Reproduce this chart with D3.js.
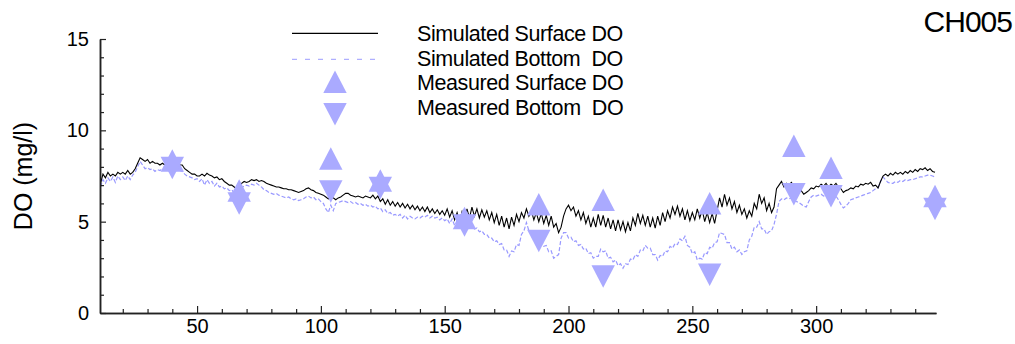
<!DOCTYPE html>
<html>
<head>
<meta charset="utf-8">
<script src="https://cdn.jsdelivr.net/npm/d3@7"></script>
<style>
  body { margin: 0; background: #fff; }
  svg { font-family: "Liberation Sans", Arial, sans-serif; }
</style>
</head>
<body>
<svg id="chart" width="1015" height="344"></svg>
<script>
// simulated series, one value per day starting at day 11
const firstDay = 11;
const surfaceSim = [
  7.1, 7.6, 7.4, 7.7, 7.5, 7.6, 7.5, 7.7, 7.6, 7.7,
  7.6, 7.8, 7.6, 7.7, 7.9, 8.2, 8.5, 8.4, 8.3, 8.4,
  8.2, 8.3, 8.2, 8.2, 8.1, 8.2, 8.1, 8.2, 8.2, 8.3,
  8.2, 8.3, 8.1, 8.1, 7.9, 7.8, 7.7, 7.6, 7.6, 7.5,
  7.5, 7.6, 7.5, 7.65, 7.55, 7.5, 7.4, 7.45, 7.3, 7.35,
  7.2, 7.1, 7.0, 7.0, 6.9, 6.8, 6.9, 7.1, 7.2, 7.15,
  7.2, 7.3, 7.25, 7.3, 7.2, 7.25, 7.2, 7.1, 7.05, 7.0,
  6.95, 6.9, 6.9, 6.85, 6.8, 6.8, 6.75, 6.75, 6.7, 6.65,
  6.6, 6.65, 6.7, 6.8, 6.85, 6.75, 6.7, 6.6, 6.55, 6.5,
  6.45, 6.35, 6.25, 6.3, 6.3, 6.2, 6.3, 6.35, 6.45, 6.55,
  6.55, 6.45, 6.4, 6.35, 6.4, 6.35, 6.3, 6.4, 6.35, 6.3,
  6.45, 6.25, 6.4, 6.1, 6.25, 5.95, 6.2, 5.9, 6.1, 5.85,
  6.05, 5.8, 6.0, 5.75, 5.95, 5.7, 5.9, 5.65, 5.85, 5.6,
  5.8, 5.55, 5.8, 5.5, 5.7, 5.45, 5.65, 5.4, 5.6, 5.35,
  5.7, 5.25, 5.6, 5.1, 5.5, 5.0, 5.55, 5.05, 5.7, 5.2,
  5.8, 5.3, 5.7, 5.2, 5.65, 5.25, 5.6, 5.1, 5.5, 4.95,
  5.4, 4.8, 5.3, 4.7, 5.2, 4.6, 5.25, 4.8, 5.4, 5.0,
  5.5, 5.2, 5.7, 5.3, 5.6, 5.1, 5.5, 5.0, 5.45, 4.9,
  5.35, 4.8, 5.3, 4.7, 4.9, 4.4, 4.7, 5.3, 5.7, 5.9,
  5.6, 5.8, 5.3, 5.6, 5.1, 5.5, 4.9, 5.3, 4.7, 5.2,
  4.7, 5.4, 4.8, 5.35, 4.7, 5.2, 4.6, 5.1, 4.5, 5.1,
  4.55, 5.0, 4.45, 4.95, 4.5, 5.2, 4.8, 5.45, 4.9, 5.35,
  4.8, 5.3, 4.7, 5.2, 4.65, 5.3, 4.8, 5.5, 5.0, 5.6,
  5.2, 5.8, 5.4, 5.85, 5.3, 5.7, 5.1, 5.6, 5.05, 5.5,
  5.1, 5.7, 5.2, 5.65, 5.0, 5.5, 4.95, 5.45, 4.9, 5.6,
  6.3, 5.8, 6.5, 5.9, 6.3, 5.7, 6.1, 5.5, 5.9, 5.4,
  5.7, 5.2, 5.6, 5.3, 6.0, 5.7, 6.5, 6.0, 6.3, 5.6,
  6.0, 5.5, 5.8, 6.8, 7.0, 7.2, 6.9, 7.1, 7.0, 7.15,
  6.95, 7.0, 6.8, 6.7, 6.5, 6.6, 6.7, 6.85, 6.8, 6.95,
  6.9, 7.05, 6.95, 7.1, 6.9, 7.05, 6.95, 7.1, 6.9, 6.8,
  6.6, 6.7, 6.75, 6.85, 6.8, 6.95, 6.9, 7.05, 7.0, 7.1,
  7.05, 7.15, 6.95, 7.0, 6.85, 7.2, 7.5, 7.6, 7.5, 7.65,
  7.55, 7.7, 7.6, 7.7, 7.6, 7.75, 7.65, 7.8, 7.7, 7.85,
  7.75, 7.9, 7.85, 7.95, 7.8, 7.9, 7.75, 7.7
];
const bottomSim = [
  6.9, 7.3, 7.1, 7.4, 7.2, 7.45, 7.15, 7.5, 7.3, 7.45,
  7.25, 7.5, 7.3, 7.55, 7.7, 8.0, 8.3, 8.1, 7.9, 7.95,
  7.85, 7.9, 7.75, 7.85, 7.8, 7.9, 7.85, 7.9, 7.9, 7.95,
  7.9, 7.95, 7.8, 7.75, 7.6, 7.5, 7.45, 7.4, 7.3, 7.35,
  7.2, 7.35, 7.0, 7.3, 7.1, 7.2, 6.95, 7.1, 6.9, 6.95,
  6.8, 6.85, 6.7, 6.75, 6.55, 6.6, 6.7, 6.85, 6.95, 7.0,
  6.95, 7.05, 7.0, 7.1, 7.0, 6.9, 6.75, 6.7, 6.6, 6.55,
  6.5, 6.55, 6.45, 6.4, 6.35, 6.3, 6.35, 6.25, 6.2, 6.25,
  6.15, 6.2, 6.25, 6.35, 6.4, 6.3, 6.35, 6.2, 6.25, 6.1,
  6.0, 5.7, 5.5, 5.9, 5.6, 6.0, 6.05, 6.1, 6.15, 6.1,
  6.05, 6.1, 6.0, 6.05, 5.95, 6.0, 5.9, 5.95, 5.85, 5.9,
  5.8, 5.85, 5.7, 5.75, 5.55, 5.65, 5.45, 5.5, 5.35, 5.4,
  5.3, 5.4, 5.2, 5.35, 5.15, 5.3, 5.2, 5.15, 5.25, 5.2,
  5.3, 5.25, 5.35, 5.2, 5.3, 5.2, 5.25, 5.1, 5.2, 5.05,
  5.15, 4.9, 5.15, 4.8, 5.05, 4.75, 5.0, 4.7, 4.95, 4.75,
  4.8, 4.6, 4.65, 4.45, 4.5, 4.3, 4.3, 4.1, 4.1, 3.9,
  3.95, 3.75, 3.8, 3.45, 3.45, 3.1, 3.4, 3.35, 3.75, 3.7,
  4.3, 4.5, 4.95, 4.5, 4.5, 4.2, 4.2, 3.9, 3.95, 3.65,
  3.7, 3.35, 3.4, 3.0, 3.1, 3.2, 4.1, 4.4, 4.4, 4.1,
  4.15, 3.9, 3.95, 3.7, 3.75, 3.5, 3.55, 3.25, 3.3, 3.0,
  3.1, 3.1, 3.5, 3.35, 3.4, 3.0, 3.05, 2.8, 2.9, 2.6,
  2.7, 2.45, 2.7, 2.65, 2.95, 2.9, 3.2, 3.1, 3.45, 3.4,
  3.7, 3.55, 3.55, 3.2, 3.2, 2.9, 3.15, 3.1, 3.4, 3.35,
  3.65, 3.55, 3.8, 3.75, 4.05, 3.95, 4.2, 3.7, 3.6, 3.25,
  3.35, 2.9, 3.0, 2.95, 3.3, 3.25, 3.6, 3.55, 3.85, 3.9,
  4.4, 4.35, 4.3, 3.85, 3.85, 3.5, 3.6, 3.35, 3.45, 3.2,
  3.35, 3.4, 4.0, 4.2, 4.7, 4.7, 5.0, 4.6, 4.6, 4.3,
  4.45, 4.5, 4.85, 5.4, 6.1, 6.25, 6.2, 6.3, 6.25, 6.3,
  6.2, 6.1, 6.05, 5.95, 5.85, 5.8, 6.1, 6.35, 6.45, 6.4,
  6.45, 6.5, 6.4, 6.45, 6.35, 6.4, 6.3, 6.4, 6.2, 5.95,
  5.75, 5.85, 6.0, 6.2, 6.25, 6.3, 6.35, 6.4, 6.45, 6.5,
  6.55, 6.6, 6.7, 6.8, 6.85, 7.2, 7.45, 7.3, 7.15, 7.1,
  7.1, 7.2, 7.15, 7.25, 7.2, 7.3, 7.25, 7.3, 7.3, 7.35,
  7.4, 7.45, 7.45, 7.5, 7.55, 7.55, 7.5, 7.45
];

// measured values
const obsDays = [40, 67, 104, 124, 158, 188, 214, 257, 291, 306, 348];
const obsSurface = [8.15, 6.5, 8.25, 7.05, 5.0, 5.75, 6.0, 5.8, 8.95, 7.75, 6.2];
const obsBottom = [8.15, 6.2, 6.85, 7.05, 5.0, 4.15, 2.2, 2.3, 6.7, 6.6, 5.9];

const xTicks = [50, 100, 150, 200, 250, 300];
const xMinor = [20, 30, 40, 60, 70, 80, 90, 110, 120, 130, 140, 160, 170, 180, 190,
  210, 220, 230, 240, 260, 270, 280, 290, 310, 320, 330, 340];
const yTicks = [0, 5, 10, 15];
const yMinor = [1, 2, 3, 4, 6, 7, 8, 9, 11, 12, 13, 14];
const legendLabels = ["Simulated Surface DO", "Simulated Bottom  DO", "Measured Surface DO", "Measured Bottom  DO"];

const markColor = "#aaaaff";
const svg = d3.select("#chart");

const x = d3.scaleLinear().domain([10.8, 348.4]).range([100, 936]);
const y = d3.scaleLinear().domain([0, 15]).range([313, 39]);

// simulated lines
const line = d3.line()
  .x((d, i) => x(firstDay + i))
  .y(d => y(d));

svg.append("path")
  .datum(bottomSim)
  .attr("d", line)
  .attr("fill", "none")
  .attr("stroke", "#9999ff")
  .attr("stroke-width", 1.2)
  .attr("stroke-dasharray", "4,2");

svg.append("path")
  .datum(surfaceSim)
  .attr("d", line)
  .attr("fill", "none")
  .attr("stroke", "#000")
  .attr("stroke-width", 1.1);

// triangles centred on their centroid
const th = 22.5, tw = 11.7;
const upTri = `M0,${-2 * th / 3}L${tw},${th / 3}L${-tw},${th / 3}Z`;
const downTri = `M0,${2 * th / 3}L${tw},${-th / 3}L${-tw},${-th / 3}Z`;

svg.selectAll(".up")
  .data(obsDays)
  .enter()
  .append("path")
  .attr("d", upTri)
  .attr("transform", (d, i) => "translate(" + x(d) + "," + y(obsSurface[i]) + ")")
  .attr("fill", markColor);

svg.selectAll(".down")
  .data(obsDays)
  .enter()
  .append("path")
  .attr("d", downTri)
  .attr("transform", (d, i) => "translate(" + x(d) + "," + y(obsBottom[i]) + ")")
  .attr("fill", markColor);

// axes
const xg = svg.append("g").attr("transform", "translate(0,313)");
xg.call(d3.axisBottom(x).tickValues(xMinor).tickSize(-4).tickSizeOuter(0).tickFormat(""));
xg.append("g").call(d3.axisBottom(x).tickValues(xTicks).tickSize(-7).tickSizeOuter(0).tickPadding(6));
xg.selectAll("text").style("font-size", "20px").style("font-family", "Liberation Sans, Arial, sans-serif").attr("fill", "#000");

const yg = svg.append("g").attr("transform", "translate(100,0)");
yg.call(d3.axisLeft(y).tickValues(yMinor).tickSize(-4).tickSizeOuter(0).tickFormat(""));
yg.append("g").call(d3.axisLeft(y).tickValues(yTicks).tickSize(-6).tickSizeOuter(0).tickPadding(11));
yg.selectAll("text").style("font-size", "20px").style("font-family", "Liberation Sans, Arial, sans-serif").attr("fill", "#000");

svg.selectAll(".domain").attr("stroke", "#222").attr("stroke-width", 1.5);
svg.selectAll(".tick line").attr("stroke", "#222").attr("stroke-width", 1.2);

// axis title
svg.append("text")
  .attr("transform", "translate(31.5,176) rotate(-90)")
  .attr("text-anchor", "middle")
  .style("font-size", "25px")
  .text("DO (mg/l)");

// station label
svg.append("text")
  .attr("x", 1012)
  .attr("y", 32)
  .attr("text-anchor", "end")
  .style("font-size", "30px")
  .style("letter-spacing", "-1px")
  .text("CH005");

// legend
const lg = svg.append("g");
lg.append("line").attr("x1", 292).attr("x2", 378).attr("y1", 33.3).attr("y2", 33.3)
  .attr("stroke", "#000").attr("stroke-width", 1.2);
lg.append("line").attr("x1", 292).attr("x2", 378).attr("y1", 59.3).attr("y2", 59.3)
  .attr("stroke", "#9c9cff").attr("stroke-width", 1).attr("stroke-dasharray", "5,8");
lg.append("path").attr("d", upTri).attr("transform", "translate(335,85.5)").attr("fill", markColor);
lg.append("path").attr("d", downTri).attr("transform", "translate(335,110.5)").attr("fill", markColor);

lg.selectAll(".lab")
  .data(legendLabels)
  .enter()
  .append("text")
  .attr("x", 417)
  .attr("y", (d, i) => 40.7 + i * 24.8)
  .style("font-size", "21.5px")
  .style("letter-spacing", "-0.4px")
  .style("white-space", "pre")
  .text(d => d);
</script>
</body>
</html>
